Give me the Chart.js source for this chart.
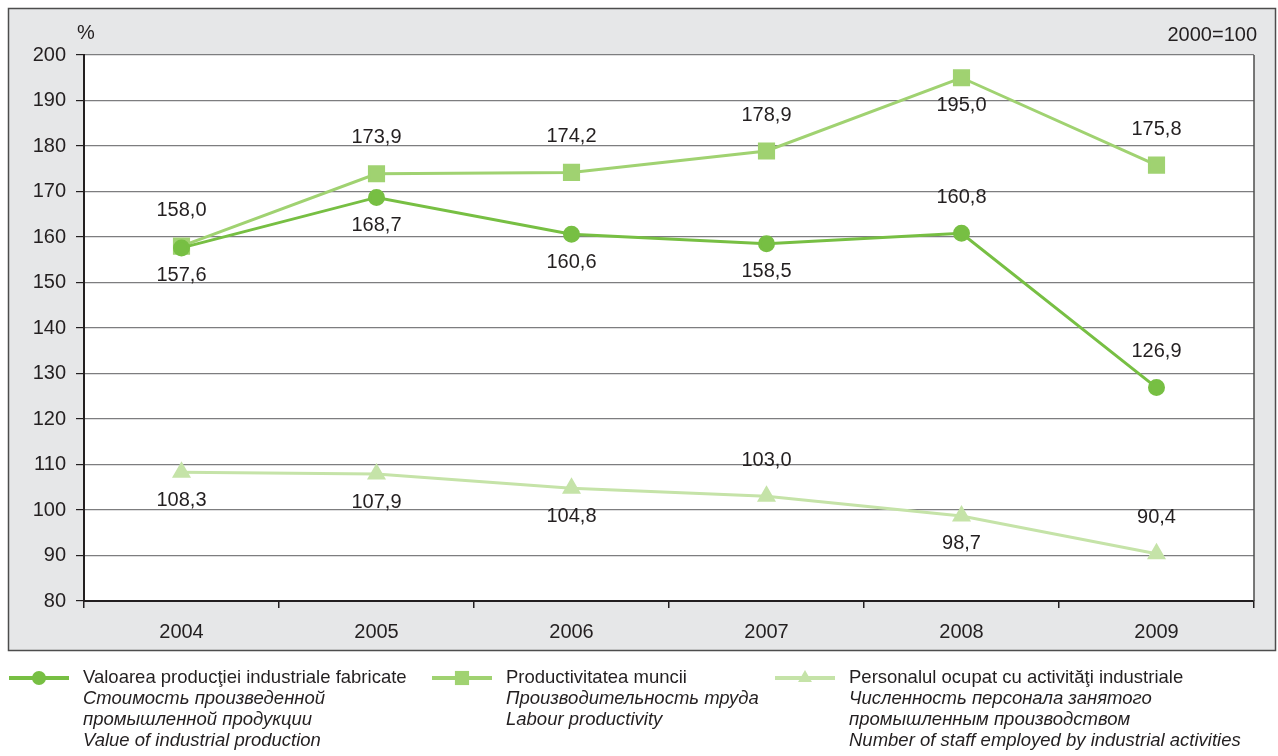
<!DOCTYPE html>
<html>
<head>
<meta charset="utf-8">
<script src="https://cdn.jsdelivr.net/npm/chart.js@4/dist/chart.umd.min.js"></script>
<style>
  html, body { margin: 0; padding: 0; background: #fff; }
  #wrap { width: 1278px; height: 756px; }
</style>
</head>
<body>
<div id="wrap"><canvas id="myChart" width="1278" height="756"></canvas></div>
<script>
const years = ["2004", "2005", "2006", "2007", "2008", "2009"];
const productionValue = [157.6, 168.7, 160.6, 158.5, 160.8, 126.9];
const labourProductivity = [158.0, 173.9, 174.2, 178.9, 195.0, 175.8];
const staffEmployed = [108.3, 107.9, 104.8, 103.0, 98.7, 90.4];
const yTicks = [80, 90, 100, 110, 120, 130, 140, 150, 160, 170, 180, 190, 200];

const legendText = [
  ["Valoarea producţiei industriale fabricate", "Стоимость произведенной", "промышленной продукции", "Value of industrial production"],
  ["Productivitatea muncii", "Производительность труда", "Labour productivity"],
  ["Personalul ocupat cu activităţi industriale", "Численность персонала занятого", "промышленным производством", "Number of staff employed by industrial activities"]
];

const FONT = "'Liberation Sans', Arial, sans-serif";
const TEXT = "#231f20";

// gray panel behind the plot, white plot area, right edge line
const panelPlugin = {
  id: "panel",
  beforeDraw(chart) {
    const ctx = chart.ctx, a = chart.chartArea;
    ctx.save();
    ctx.fillStyle = "#e6e7e8";
    ctx.fillRect(8, 8, 1268, 643);
    ctx.strokeStyle = "#4d4d4d";
    ctx.lineWidth = 1.5;
    ctx.strokeRect(8.5, 8.5, 1267, 642);
    ctx.fillStyle = "#ffffff";
    ctx.fillRect(a.left, a.top, a.right - a.left, a.bottom - a.top);
    ctx.fillStyle = TEXT;
    ctx.font = "20px " + FONT;
    ctx.textBaseline = "middle";
    ctx.textAlign = "left";
    ctx.fillText("%", 77, 33);
    ctx.textAlign = "right";
    ctx.fillText("2000=100", 1257, 35);
    ctx.restore();
  },
  beforeDatasetsDraw(chart) {
    const ctx = chart.ctx, a = chart.chartArea;
    ctx.save();
    ctx.strokeStyle = "#4d4d4d";
    ctx.lineWidth = 1.5;
    ctx.beginPath();
    ctx.moveTo(a.right, a.top);
    ctx.lineTo(a.right, a.bottom);
    ctx.stroke();
    ctx.restore();
  }
};

// value labels, comma as decimal separator
const labelPlugin = {
  id: "valueLabels",
  afterDatasetsDraw(chart) {
    const ctx = chart.ctx;
    ctx.save();
    ctx.font = "20px " + FONT;
    ctx.fillStyle = TEXT;
    ctx.textAlign = "center";
    ctx.textBaseline = "middle";
    chart.data.datasets.forEach((ds, i) => {
      chart.getDatasetMeta(i).data.forEach((pt, j) => {
        const txt = ds.data[j].toFixed(1).replace(".", ",");
        const dy = ds.labelPos[j] === "a" ? -36 : 28;
        ctx.fillText(txt, pt.x, pt.y + dy);
      });
    });
    ctx.restore();
  }
};

// legend under the panel with three lines of text per item
const legendPlugin = {
  id: "multiLegend",
  afterDraw(chart) {
    const ctx = chart.ctx;
    const xs = [9, 432, 775];
    ctx.save();
    chart.data.datasets.forEach((ds, i) => {
      const x = xs[i], y = 678;
      ctx.strokeStyle = ds.borderColor;
      ctx.fillStyle = ds.borderColor;
      ctx.lineWidth = 4;
      ctx.beginPath();
      ctx.moveTo(x, y);
      ctx.lineTo(x + 60, y);
      ctx.stroke();
      Chart.helpers.drawPoint(ctx, {
        pointStyle: ds.pointStyle,
        radius: ds.pointRadius,
        borderWidth: 0
      }, x + 30, y);
      ctx.fillStyle = TEXT;
      ctx.textAlign = "left";
      ctx.textBaseline = "middle";
      legendText[i].forEach((line, k) => {
        ctx.font = (k === 0 ? "" : "italic ") + "18.5px " + FONT;
        ctx.fillText(line, x + 74, y + k * 21);
      });
    });
    ctx.restore();
  }
};

new Chart(document.getElementById("myChart"), {
  type: "line",
  data: {
    labels: years,
    datasets: [
      {
        label: legendText[0][0],
        data: productionValue,
        borderColor: "#77bf43",
        backgroundColor: "#77bf43",
        borderWidth: 3,
        pointStyle: "circle",
        pointRadius: 7,
        labelPos: ["b", "b", "b", "b", "a", "a"],
        order: 1
      },
      {
        label: legendText[1][0],
        data: labourProductivity,
        borderColor: "#a0d271",
        backgroundColor: "#a0d271",
        borderWidth: 3,
        pointStyle: "rect",
        pointRadius: 10,
        labelPos: ["a", "a", "a", "a", "b", "a"],
        order: 2
      },
      {
        label: legendText[2][0],
        data: staffEmployed,
        borderColor: "#c5e3a8",
        backgroundColor: "#c5e3a8",
        borderWidth: 3,
        pointStyle: "triangle",
        pointRadius: 8,
        labelPos: ["b", "b", "b", "a", "b", "a"],
        order: 3
      }
    ]
  },
  options: {
    responsive: false,
    animation: false,
    layout: { padding: { left: 0, top: 55, right: 24, bottom: 0 } },
    plugins: {
      legend: { display: false },
      tooltip: { enabled: false }
    },
    elements: {
      line: { tension: 0 },
      point: { borderWidth: 0 }
    },
    scales: {
      x: {
        type: "category",
        offset: true,
        afterFit(s) { s.height = 155; },
        grid: {
          offset: true,
          drawOnChartArea: false,
          drawTicks: true,
          tickLength: 7,
          color: TEXT,
          lineWidth: 1.5
        },
        border: { color: TEXT, width: 2 },
        ticks: { color: TEXT, font: { size: 20, family: FONT }, padding: 12 }
      },
      y: {
        min: 80,
        max: 200,
        afterFit(s) { s.width = 84; },
        afterBuildTicks(s) { s.ticks = yTicks.map(v => ({ value: v })); },
        grid: {
          color: "#7d7d7f",
          lineWidth: 1.2,
          tickLength: 8,
          tickColor: TEXT
        },
        border: { color: TEXT, width: 2 },
        ticks: { color: TEXT, font: { size: 20, family: FONT }, padding: 10 }
      }
    }
  },
  plugins: [panelPlugin, labelPlugin, legendPlugin]
});
</script>
</body>
</html>
